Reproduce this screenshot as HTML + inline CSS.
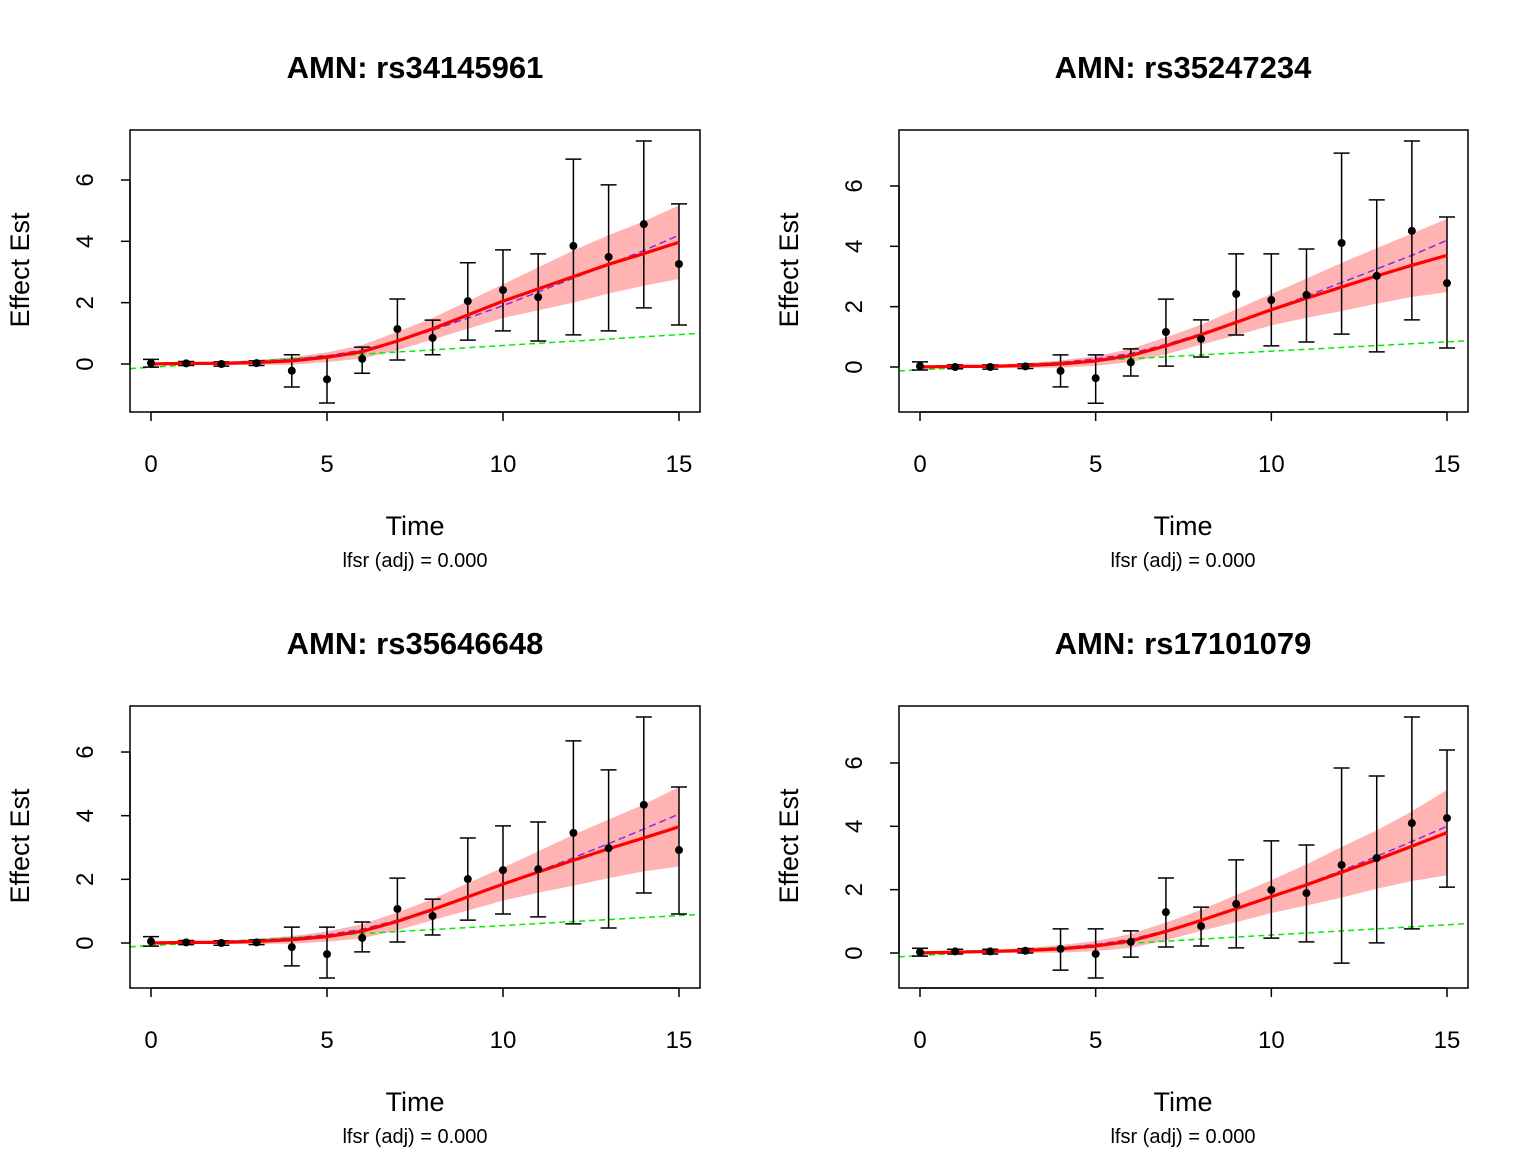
<!DOCTYPE html>
<html><head><meta charset="utf-8"><style>
html,body{margin:0;padding:0;background:#fff}
svg{display:block;font-family:"Liberation Sans",Arial,sans-serif}
</style></head><body>
<svg id="fig" width="1536" height="1152" viewBox="0 0 1536 1152"></svg>
<script>
const times=[0,1,2,3,4,5,6,7,8,9,10,11,12,13,14,15];
const xTicks=[0,5,10,15];
const yTicks=[0,2,4,6];
const titles=["AMN: rs34145961","AMN: rs35247234","AMN: rs35646648","AMN: rs17101079"];

const p1_est=[0.03,0.02,0,0.03,-0.22,-0.5,0.17,1.14,0.85,2.05,2.41,2.18,3.85,3.49,4.56,3.26];
const p1_lo=[-0.1,-0.05,-0.07,-0.05,-0.75,-1.27,-0.3,0.13,0.3,0.78,1.08,0.75,0.95,1.08,1.83,1.27];
const p1_hi=[0.15,0.08,0.07,0.1,0.3,0.25,0.55,2.12,1.43,3.3,3.72,3.59,6.68,5.84,7.27,5.22];
const p1_fit=[0,0.02,0.02,0.05,0.1,0.22,0.4,0.75,1.15,1.6,2.05,2.45,2.85,3.25,3.6,3.97];
const p1_bw=[0.05,0.05,0.05,0.08,0.12,0.16,0.22,0.3,0.35,0.45,0.55,0.7,0.85,0.95,1.05,1.2];
const p1_pur=[0,0.02,0.05,0.08,0.15,0.27,0.45,0.75,1.1,1.5,1.9,2.35,2.8,3.25,3.7,4.2];
const p1_grn=[-0.15,1.0];

const p2_est=[0.03,0,0,0.02,-0.13,-0.37,0.15,1.16,0.93,2.42,2.22,2.39,4.11,3.02,4.51,2.78];
const p2_lo=[-0.1,-0.06,-0.07,-0.05,-0.66,-1.2,-0.3,0.03,0.33,1.06,0.7,0.83,1.09,0.5,1.56,0.63];
const p2_hi=[0.17,0.07,0.07,0.1,0.4,0.4,0.6,2.25,1.56,3.75,3.75,3.91,7.09,5.54,7.49,4.97];
const p2_fit=[0,0.02,0.02,0.05,0.1,0.2,0.38,0.7,1.07,1.48,1.9,2.28,2.65,3.02,3.37,3.7];
const p2_bw=[0.05,0.05,0.05,0.08,0.12,0.16,0.22,0.28,0.33,0.43,0.52,0.65,0.8,0.92,1.05,1.22];
const p2_pur=[0,0.02,0.05,0.08,0.15,0.27,0.45,0.75,1.1,1.5,1.9,2.35,2.8,3.25,3.7,4.2];
const p2_grn=[-0.13,0.87];

const p3_est=[0.05,0.02,0,0.02,-0.13,-0.35,0.16,1.07,0.85,2.01,2.29,2.32,3.46,2.98,4.34,2.92];
const p3_lo=[-0.1,-0.05,-0.07,-0.05,-0.72,-1.1,-0.28,0.03,0.25,0.72,0.91,0.82,0.6,0.47,1.57,0.91];
const p3_hi=[0.2,0.08,0.07,0.1,0.5,0.5,0.66,2.04,1.38,3.3,3.68,3.8,6.35,5.44,7.1,4.9];
const p3_fit=[0,0.02,0.02,0.05,0.1,0.2,0.37,0.68,1.05,1.45,1.85,2.23,2.6,2.96,3.3,3.65];
const p3_bw=[0.05,0.05,0.05,0.08,0.12,0.16,0.22,0.28,0.33,0.43,0.52,0.65,0.8,0.92,1.05,1.25];
const p3_pur=[0,0.02,0.05,0.08,0.15,0.26,0.43,0.72,1.06,1.44,1.83,2.25,2.68,3.12,3.58,4.05];
const p3_grn=[-0.12,0.9];

const p4_est=[0.03,0.05,0.05,0.07,0.13,-0.03,0.35,1.29,0.85,1.55,1.99,1.89,2.78,3.0,4.1,4.26];
const p4_lo=[-0.1,-0.03,-0.03,0,-0.54,-0.79,-0.13,0.19,0.22,0.16,0.47,0.35,-0.32,0.32,0.76,2.08];
const p4_hi=[0.15,0.12,0.12,0.14,0.76,0.76,0.7,2.37,1.45,2.94,3.54,3.41,5.84,5.59,7.45,6.41];
const p4_fit=[0,0.03,0.05,0.08,0.13,0.22,0.38,0.68,1.03,1.4,1.78,2.15,2.55,2.95,3.37,3.8];
const p4_bw=[0.05,0.05,0.05,0.08,0.12,0.16,0.22,0.28,0.33,0.43,0.52,0.65,0.8,0.92,1.1,1.35];
const p4_pur=[0,0.03,0.06,0.09,0.16,0.27,0.43,0.71,1.04,1.4,1.78,2.18,2.6,3.05,3.52,4.0];
const p4_grn=[-0.12,0.93];

const greenX=[-0.6,15.6];

const NS="http://www.w3.org/2000/svg";
const svg=document.getElementById('fig');
function mk(tag,attrs,parent){const e=document.createElementNS(NS,tag);for(const k in attrs)e.setAttribute(k,attrs[k]);(parent||svg).appendChild(e);return e;}

const boxes=[
 {L:130,R:700,T:130,B:412,y0:364,ys:30.67,cx:415,ty:0},
 {L:899,R:1468,T:130,B:412,y0:367,ys:30.17,cx:1183,ty:0},
 {L:130,R:700,T:706,B:988,y0:943,ys:31.83,cx:415,ty:576},
 {L:899,R:1468,T:706,B:988,y0:953,ys:31.67,cx:1183,ty:576}
];
const data=[
 [p1_est,p1_lo,p1_hi,p1_fit,p1_bw,p1_pur,p1_grn],
 [p2_est,p2_lo,p2_hi,p2_fit,p2_bw,p2_pur,p2_grn],
 [p3_est,p3_lo,p3_hi,p3_fit,p3_bw,p3_pur,p3_grn],
 [p4_est,p4_lo,p4_hi,p4_fit,p4_bw,p4_pur,p4_grn]
];

boxes.forEach((b,i)=>{
 const [est,lo,hi,fit,bw,pur,grn]=data[i];
 const x0=b.L+21, xs=(b.R-b.L-42)/15;
 const X=t=>x0+t*xs, Y=v=>b.y0-v*b.ys;
 const g=mk('g',{});
 
 
 const cp=mk('clipPath',{id:'cp'+i},g);mk('rect',{x:b.L,y:b.T,width:b.R-b.L,height:b.B-b.T},cp);
 const plot=mk('g',{'clip-path':'url(#cp'+i+')'},g);
 let pts=times.map((t,k)=>X(t)+','+Y(fit[k]+bw[k]));
 pts=pts.concat(times.slice().reverse().map((t,k)=>{const j=times.length-1-k;return X(t)+','+Y(fit[j]-bw[j]);}));
 const band=mk('polygon',{points:pts.join(' '),fill:'#ffb3b3',stroke:'none'},plot);
 
 
 const gl=mk('line',{x1:X(greenX[0]),y1:Y(grn[0]),x2:X(greenX[1]),y2:Y(grn[1]),stroke:'#00ee00','stroke-width':1.5,'stroke-dasharray':'6,4'},plot);
 
 
 const pl=mk('polyline',{points:times.map((t,k)=>X(t)+','+Y(pur[k])).join(' '),fill:'none',stroke:'#8a2be2','stroke-width':1.5,'stroke-dasharray':'7,4'},plot);
 
 
 times.forEach((t,k)=>{
  const eb=mk('path',{d:`M${X(t)},${Y(lo[k])}V${Y(hi[k])}M${X(t)-8},${Y(lo[k])}h16M${X(t)-8},${Y(hi[k])}h16`,stroke:'#000','stroke-width':1.5,fill:'none'},plot);
  
  
 });
 const rl=mk('polyline',{points:times.map((t,k)=>X(t)+','+Y(fit[k])).join(' '),fill:'none',stroke:'#ff0000','stroke-width':3.2,'stroke-linejoin':'round'},plot);
 
 
 times.forEach((t,k)=>{
  const c=mk('circle',{cx:X(t),cy:Y(est[k]),r:4,fill:'#000'},plot);
  
  
 });
 const bx=mk('rect',{x:b.L,y:b.T,width:b.R-b.L,height:b.B-b.T,fill:'none',stroke:'#000','stroke-width':1.5},g);
 
 
 const xa=mk('g',{},g);
 
 
 mk('line',{x1:X(xTicks[0]),x2:X(xTicks[xTicks.length-1]),y1:b.B,y2:b.B,stroke:'#000','stroke-width':1.5},xa);
 xTicks.forEach(t=>{
  mk('line',{x1:X(t),x2:X(t),y1:b.B,y2:b.B+9,stroke:'#000','stroke-width':1.5},xa);
  const tx=mk('text',{x:X(t),y:b.B+60,'text-anchor':'middle','font-size':24},xa);tx.textContent=t;
  
  
 });
 const ya=mk('g',{},g);
 
 
 mk('line',{x1:b.L,x2:b.L,y1:Y(yTicks[0]),y2:Y(yTicks[yTicks.length-1]),stroke:'#000','stroke-width':1.5},ya);
 yTicks.forEach(v=>{
  mk('line',{x1:b.L,x2:b.L-9,y1:Y(v),y2:Y(v),stroke:'#000','stroke-width':1.5},ya);
  const lx=b.L-37;
  const tx=mk('text',{x:lx,y:Y(v),'text-anchor':'middle','font-size':24,transform:`rotate(-90 ${lx} ${Y(v)})`},ya);tx.textContent=v;
  
  
 });
 const tt=mk('text',{x:b.cx,y:78,'text-anchor':'middle','font-size':31,'font-weight':'bold',transform:`translate(0 ${b.ty})`},g);tt.textContent=titles[i];
 
 
 const xl=mk('text',{x:b.cx,y:535+b.ty,'text-anchor':'middle','font-size':27},g);xl.textContent='Time';
 
 
 const sl=mk('text',{x:b.cx,y:567+b.ty,'text-anchor':'middle','font-size':20},g);sl.textContent='lfsr (adj) = 0.000';
 
 
 const yc=(b.T+b.B)/2-1, yx=b.L-101;
 const yl=mk('text',{x:yx,y:yc,'text-anchor':'middle','font-size':27,transform:`rotate(-90 ${yx} ${yc})`},g);yl.textContent='Effect Est';
 
 
});
</script>
</body></html>
